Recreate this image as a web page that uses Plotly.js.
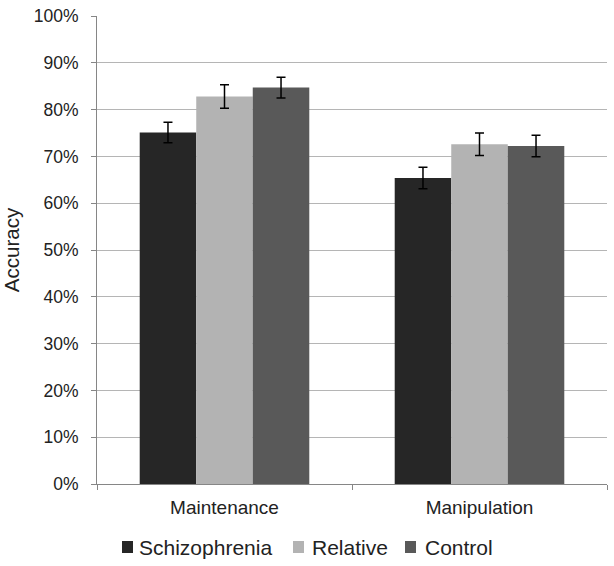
<!DOCTYPE html>
<html>
<head>
<meta charset="utf-8">
<script src="https://cdn.plot.ly/plotly-3.0.1.min.js"></script>
<style>
  html, body { margin: 0; padding: 0; background: #fff; }
  #chart { width: 614px; height: 566px; }
</style>
</head>
<body>
<div id="chart"></div>
<script>
// === Datos ===
const categorias = ["Maintenance", "Manipulation"];
const grupos = ["Schizophrenia", "Relative", "Control"];
const colores = ["#262626", "#b3b3b3", "#595959"];

const schizophrenia = [0.751, 0.654];
const relative = [0.828, 0.726];
const control = [0.847, 0.722];

const errSchizophrenia = [0.022, 0.023];
const errRelative = [0.025, 0.024];
const errControl = [0.022, 0.023];

const valores = [schizophrenia, relative, control];
const errores = [errSchizophrenia, errRelative, errControl];

const tickVals = [0, 0.1, 0.2, 0.3, 0.4, 0.5, 0.6, 0.7, 0.8, 0.9, 1];

// === Trazas ===
const traces = grupos.map((g, i) => ({
  type: "bar",
  name: g,
  x: categorias,
  y: valores[i],
  marker: { color: colores[i] },
  error_y: {
    type: "data",
    array: errores[i],
    visible: true,
    color: "#000",
    thickness: 1.5,
    width: 4.5
  }
}));

// === Leyenda manual (cuadro + texto, en px del área de dibujo) ===
const plotL = 97, plotW = 510, plotB = 484, plotH = 468;
const px = x => (x - plotL) / plotW;
const py = y => (plotB - y) / plotH;
const legendSq = [122, 293, 405];
const legendTxt = [137, 310, 423];
const legendY = 547;

const shapes = grupos.map((g, i) => ({
  type: "rect",
  xref: "paper", yref: "paper",
  x0: px(legendSq[i]), x1: px(legendSq[i] + 11),
  y0: py(legendY + 6), y1: py(legendY - 6),
  fillcolor: colores[i],
  line: { width: 0 }
}));

const annotations = grupos.map((g, i) => ({
  text: g,
  xref: "paper", yref: "paper",
  x: px(legendTxt[i]), y: py(legendY),
  xanchor: "left", yanchor: "middle",
  showarrow: false,
  font: { size: 21, color: "#222" }
}));

const layout = {
  width: 614,
  height: 566,
  paper_bgcolor: "#fff",
  plot_bgcolor: "#fff",
  font: { family: "Liberation Sans, Arial, sans-serif", color: "#222" },
  margin: { l: 97, r: 7, t: 16, b: 82 },
  barmode: "group",
  bargap: 0.335,
  bargroupgap: 0,
  showlegend: false,
  shapes,
  annotations,
  xaxis: {
    showline: true,
    linecolor: "#868686",
    linewidth: 1,
    ticks: "outside",
    tickson: "boundaries",
    ticklen: 5,
    tickcolor: "#868686",
    tickfont: { size: 19, color: "#222" },
    ticklabelstandoff: 6,
    showgrid: false,
    zeroline: false,
    automargin: false
  },
  yaxis: {
    title: { text: "Accuracy", font: { size: 20.5, color: "#222" }, standoff: 8 },
    range: [0, 1],
    tickvals: tickVals,
    tickformat: ".0%",
    ticks: "outside",
    ticklen: 5,
    tickcolor: "#868686",
    tickfont: { size: 17.5, color: "#222" },
    ticklabelstandoff: 9,
    showline: true,
    linecolor: "#868686",
    linewidth: 1,
    showgrid: true,
    gridcolor: "#b5b5b5",
    gridwidth: 1,
    zeroline: false,
    fixedrange: true,
    automargin: false
  }
};

Plotly.newPlot("chart", traces, layout, { staticPlot: true, displayModeBar: false });
</script>
</body>
</html>
